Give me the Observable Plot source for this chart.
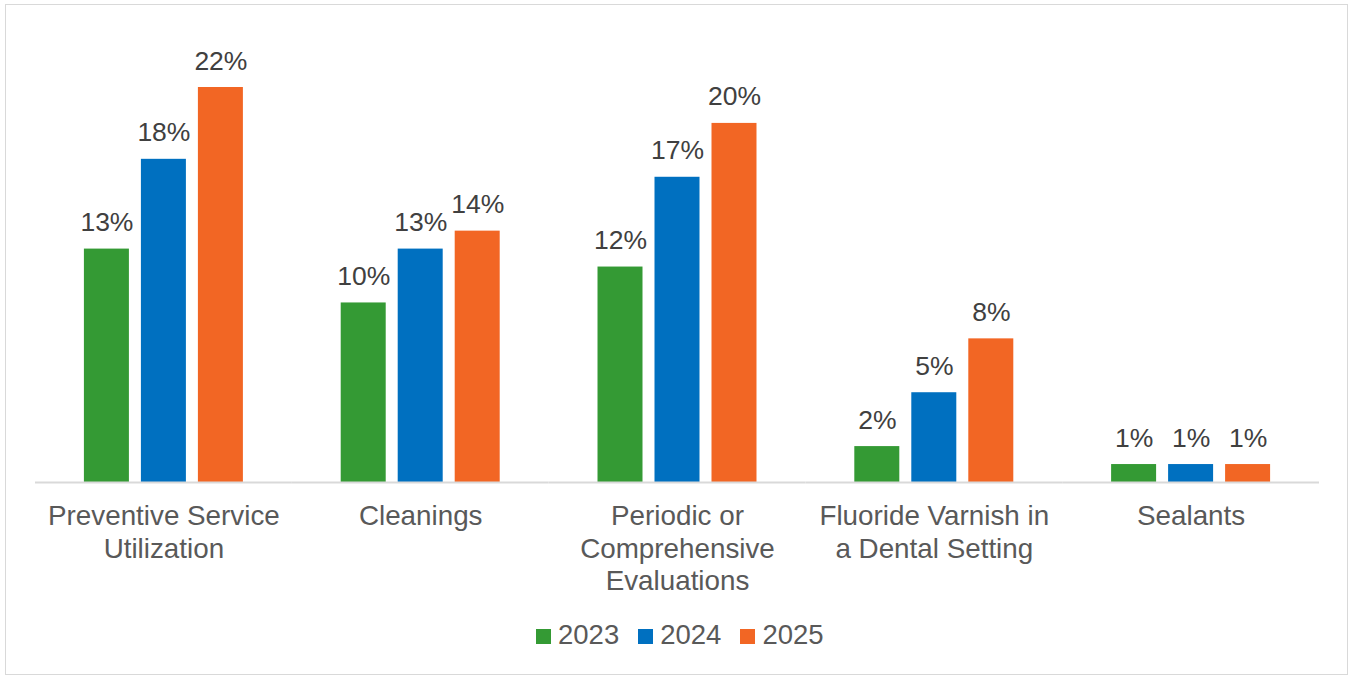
<!DOCTYPE html>
<html>
<head>
<meta charset="utf-8">
<script src="https://cdn.jsdelivr.net/npm/d3@7"></script>
<script src="https://cdn.jsdelivr.net/npm/@observablehq/plot@0.6"></script>
<style>
  html, body { margin: 0; padding: 0; background: #fff; }
  body { width: 1349px; height: 676px; position: relative; overflow: hidden; font-family: "Liberation Sans", Arial, sans-serif; }
  #frame { position: absolute; left: 5px; top: 4px; width: 1343px; height: 671px; box-sizing: border-box; border: 1.5px solid #D9D9D9; }
  #chart { position: absolute; left: 0; top: 0; }
  #legend { position: absolute; left: 536px; top: 620px; height: 30px; display: flex; align-items: center; font-size: 27.5px; color: #595959; line-height: 30px; }
  #legend .item { display: flex; align-items: center; margin-right: 19px; }
  #legend .sw { width: 15px; height: 15px; margin-right: 7px; display: inline-block; margin-top: 2px; }
</style>
</head>
<body>
<div id="frame"></div>
<div id="chart"></div>
<div id="legend"></div>
<script>
const categories = ["Preventive Service\nUtilization", "Cleanings", "Periodic or\nComprehensive\nEvaluations", "Fluoride Varnish in\na Dental Setting", "Sealants"];
const years = ["2023", "2024", "2025"];
const colors = ["#349A34", "#0070C0", "#F26624"];
const values2023 = [13, 10, 12, 2, 1];
const values2024 = [18, 13, 17, 5, 1];
const values2025 = [22, 14, 20, 8, 1];

const series = [values2023, values2024, values2025];
const data = [];
categories.forEach((c, i) => {
  years.forEach((y, j) => data.push({category: c, year: y, value: series[j][i]}));
});

const chart = Plot.plot({
  width: 1349,
  height: 615,
  marginLeft: 35,
  marginRight: 30,
  marginTop: 87,
  marginBottom: 133,
  style: {fontFamily: "'Liberation Sans', Arial, sans-serif", background: "transparent", overflow: "visible"},
  fx: {domain: categories, padding: 0, label: null, round: false},
  x: {domain: years, paddingInner: 12 / 57, paddingOuter: 0.858, axis: null, round: false},
  y: {domain: [0, 22], axis: null},
  color: {domain: years, range: colors},
  marks: [
    Plot.barY(data, {fx: "category", x: "year", y: "value", fill: "year"}),
    Plot.ruleY([0], {stroke: "#D9D9D9", strokeWidth: 2}),
    Plot.text(data, {fx: "category", x: "year", y: "value", text: d => d.value + "%", dy: -18, lineAnchor: "bottom", fontSize: 26.5, fill: "#404040"}),
    Plot.axisFx({anchor: "bottom", tickSize: 0, tickPadding: 19, fontSize: 27.8, lineHeight: 1.18, fill: "#595959", label: null})
  ]
});
document.getElementById("chart").appendChild(chart);

const legend = document.getElementById("legend");
years.forEach((y, j) => {
  const item = document.createElement("span");
  item.className = "item";
  const sw = document.createElement("span");
  sw.className = "sw";
  sw.style.background = colors[j];
  item.appendChild(sw);
  item.appendChild(document.createTextNode(y));
  legend.appendChild(item);
});
</script>
</body>
</html>
